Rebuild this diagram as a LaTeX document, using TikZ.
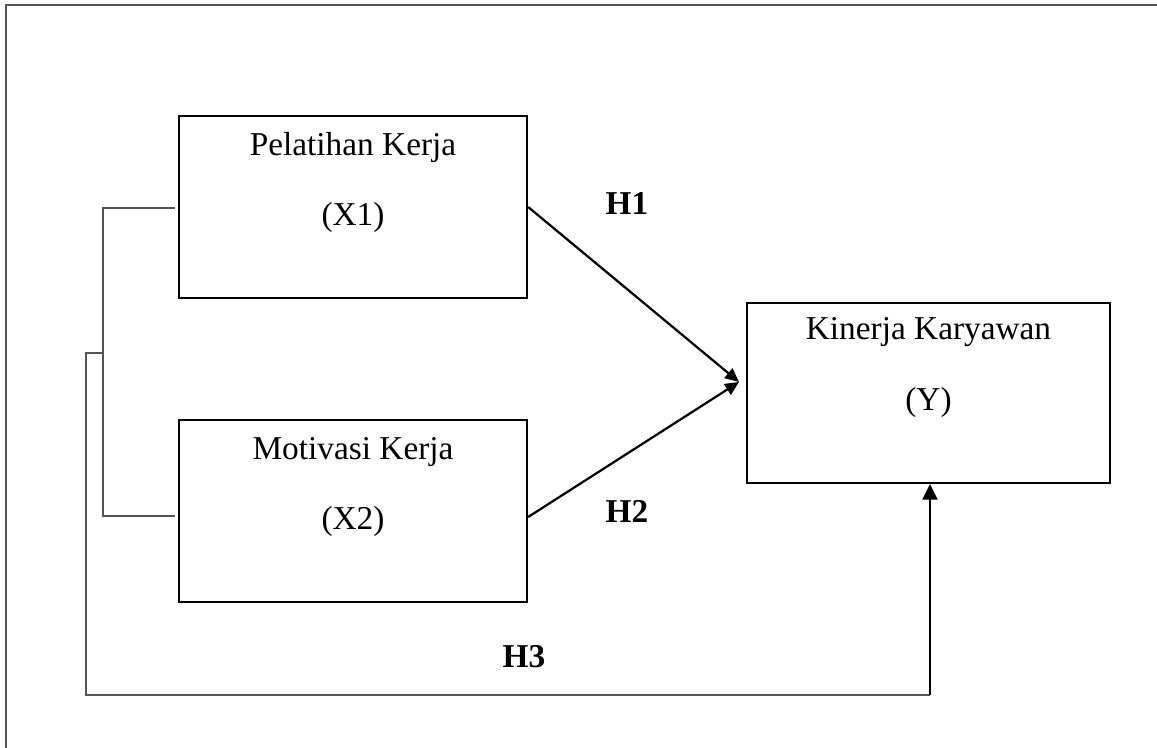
\documentclass[tikz,border=0pt]{standalone}
\usepackage{fontspec}
\setmainfont{Liberation Serif}
\usepackage{tikz}
\usetikzlibrary{arrows.meta,calc,positioning}
\definecolor{FrameGray}{RGB}{85,85,85}

\begin{document}
\begin{tikzpicture}[x=0.36pt, y=-0.36pt,
  varbox/.style={draw, line width=0.8pt, minimum width=125.3pt, minimum height=65.5pt, inner sep=0pt},
  vartext/.style={font=\fontsize{12}{14}\selectfont, anchor=base, inner sep=0pt},
  hyplabel/.style={font=\fontsize{12}{14}\selectfont\bfseries, anchor=base, inner sep=0pt},
  link/.style={line width=0.8pt, -{Triangle[length=5pt, width=4.5pt]}},
  bracket/.style={draw=FrameGray, line width=0.7pt}]
\useasboundingbox (0,0) rectangle (1157,748);
% frame
\draw[FrameGray, line width=0.8pt] (6,748) -- (6,5) -- (1157,5);
% variables
\node[varbox] (x1) at (353,207) {};
\node[varbox] (x2) at (353,511) {};
\node[varbox, minimum width=130.7pt, minimum height=64.8pt] (y) at (928.5,393) {};
\node[vartext] (x1name) at ($(x1.north)+(0,41)$) {Pelatihan Kerja};
\node[vartext] (x1code) at ($(x1.north)+(0,111)$) {(X1)};
\node[vartext] (x2name) at ($(x2.north)+(0,41)$) {Motivasi Kerja};
\node[vartext] (x2code) at ($(x2.north)+(0,111)$) {(X2)};
\node[vartext] (yname) at ($(y.north)+(0,38)$) {Kinerja Karyawan};
\node[vartext] (ycode) at ($(y.north)+(0,109)$) {(Y)};
% hypotheses
\coordinate (meet) at (739,382);
\draw[link] (x1.east) -- (meet);
\draw[link] ($(x2.east)+(0,6)$) -- (meet);
\node[hyplabel] (h1) at (627,215) {H1};
\node[hyplabel] (h2) at (627,522) {H2};
\node[hyplabel] (h3) at (524,667) {H3};
% simultaneous path
\coordinate (brtop) at (103,208);
\coordinate (brbot) at (103,516);
\draw[bracket] ($(x1.west)+(-3,1)$) -- (brtop) -- (brbot) -- ($(x2.west)+(-3,5)$);
\coordinate (h3start) at (86,353);
\coordinate (h3corner) at (930,695);
\draw[bracket] (103,353) -- (h3start) -- (86,695) -- (h3corner);
\draw[line width=0.8pt, -{Triangle[length=5.6pt, width=5.4pt]}] (h3corner) -- (h3corner |- y.south);
\end{tikzpicture}
\end{document}
